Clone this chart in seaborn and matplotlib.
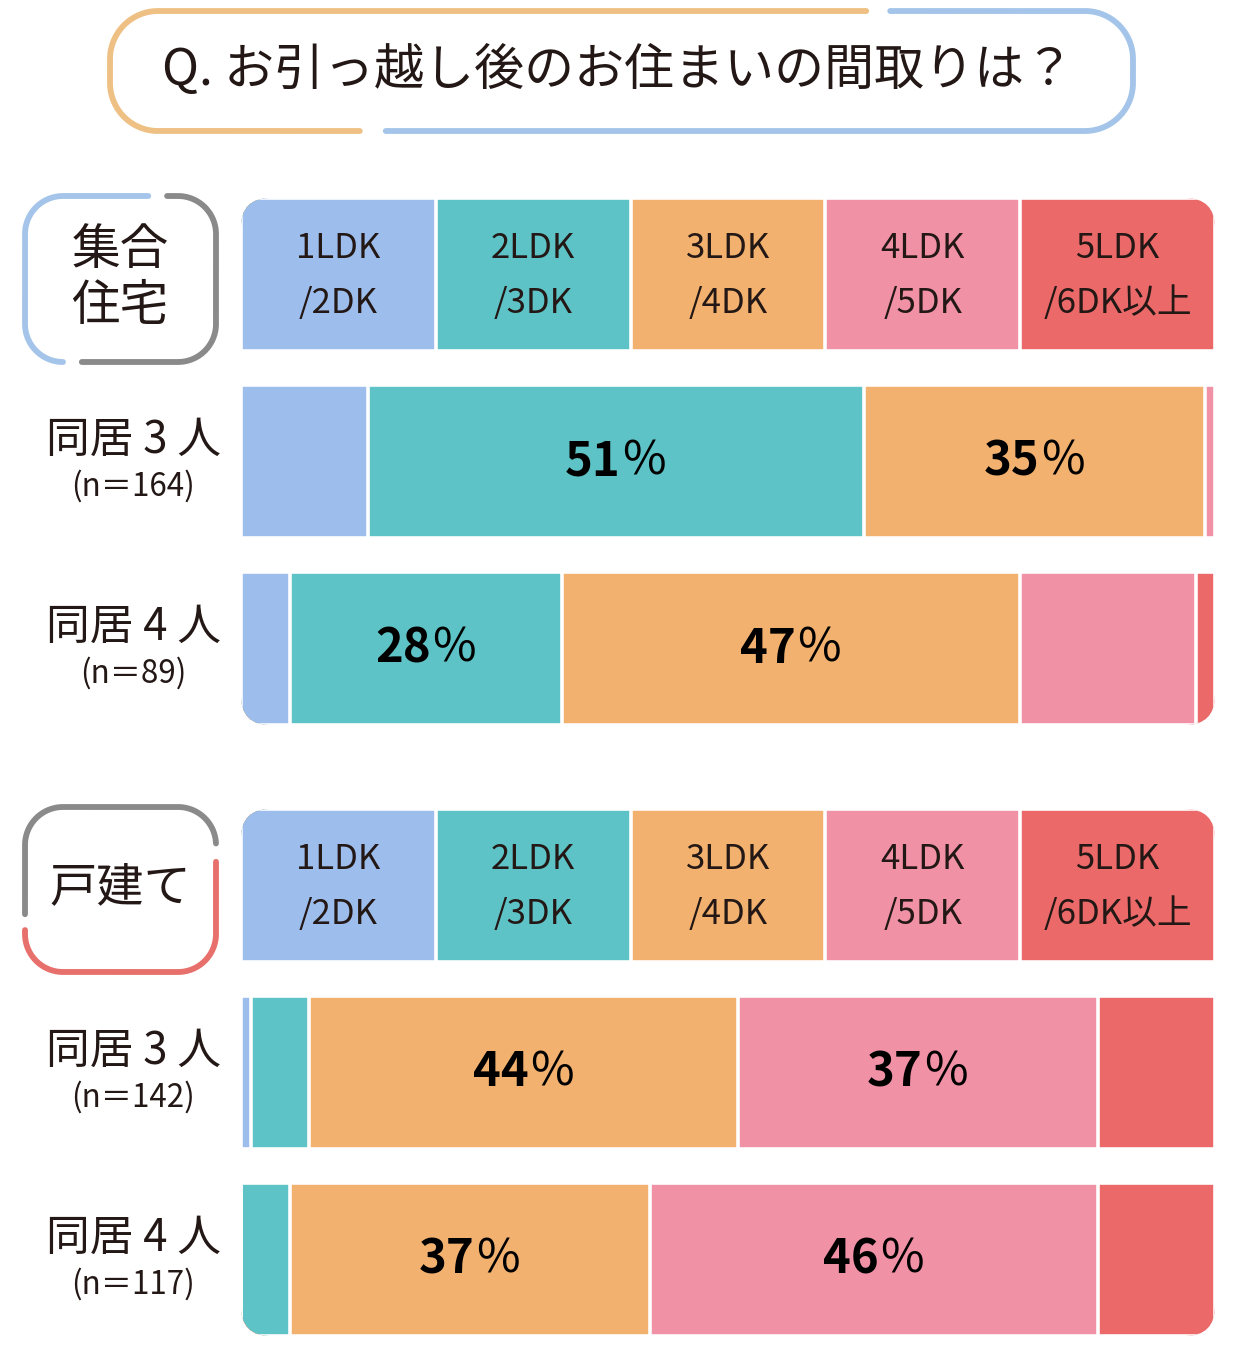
import numpy as np
import pandas as pd
import matplotlib.pyplot as plt
import matplotlib.transforms as mtrans
from matplotlib.patches import FancyBboxPatch
import seaborn as sns

# layout categories and answers (percent)
categories = ["1LDK", "2LDK", "3LDK", "4LDK", "5LDK"]
cat_line2 = ["/2DK", "/3DK", "/4DK", "/5DK", "/6DK以上"]
colors = ["#9dbdec", "#5ec3c6", "#f2b16f", "#f191a6", "#eb6a69"]

apt_3 = [13, 51, 35, 1, 0]
apt_4 = [5, 28, 47, 18, 2]
house_3 = [1, 6, 44, 37, 12]
house_4 = [0, 5, 37, 46, 12]

row_names = ["同居 3 人", "同居 4 人"]
apt_n = ["(n＝164)", "(n＝89)"]
house_n = ["(n＝142)", "(n＝117)"]

title = "Q. お引っ越し後のお住まいの間取りは？"

sns.set_theme(style="white")
plt.rcParams["font.family"] = ["Noto Sans CJK JP", "DejaVu Sans"]
ink = "#231815"

W, H = 1242, 1349
fig = plt.figure(figsize=(W / 100, H / 100), dpi=100)
fig.patch.set_facecolor("white")
# pixel coords, origin top-left
pix = mtrans.Affine2D().scale(1 / W, -1 / H).translate(0, 1) + fig.transFigure


def perimeter(x0, y0, x1, y1, r):
    pts = []
    def line(a, b):
        n = int(max(abs(b[0] - a[0]), abs(b[1] - a[1]))) + 2
        pts.extend(zip(np.linspace(a[0], b[0], n), np.linspace(a[1], b[1], n)))
    def arc(cx, cy, t0, t1):
        t = np.radians(np.linspace(t0, t1, 40))
        pts.extend(zip(cx + r * np.cos(t), cy + r * np.sin(t)))
    line((x0 + r, y0), (x1 - r, y0))
    arc(x1 - r, y0 + r, -90, 0)
    line((x1, y0 + r), (x1, y1 - r))
    arc(x1 - r, y1 - r, 0, 90)
    line((x1 - r, y1), (x0 + r, y1))
    arc(x0 + r, y1 - r, 90, 180)
    line((x0, y1 - r), (x0, y0 + r))
    arc(x0 + r, y0 + r, 180, 270)
    return np.array(pts)


def piece(P, a, b):
    i = np.argmin(((P - a) ** 2).sum(1))
    j = np.argmin(((P - b) ** 2).sum(1))
    if i <= j:
        return P[i:j + 1]
    return np.vstack([P[i:], P[:j + 1]])


def stroke(P, a, b, color):
    seg = piece(P, np.array(a), np.array(b))
    fig.add_artist(plt.Line2D(seg[:, 0], seg[:, 1], transform=pix, color=color,
                              lw=4.2, solid_capstyle="round"))


# title box
P = perimeter(110, 11, 1133, 131, 48)
stroke(P, (360, 131), (866, 11), "#efc084")
stroke(P, (890, 11), (386, 131), "#a4c5e9")
fig.text(618, 71, title, transform=pix, ha="center", va="center",
         fontsize=36, color=ink)

# group label boxes
P = perimeter(25, 196, 216, 362, 38)
stroke(P, (63, 362), (148, 196), "#a4c5e9")
stroke(P, (167, 196), (82, 362), "#8a8a8a")
fig.text(120, 250, "集合", transform=pix, ha="center", va="center", fontsize=35, color=ink)
fig.text(120, 306, "住宅", transform=pix, ha="center", va="center", fontsize=35, color=ink)

P = perimeter(25, 807, 216, 972, 38)
stroke(P, (25, 914), (216, 843), "#8a8a8a")
stroke(P, (216, 862), (25, 930), "#e8706c")
fig.text(120, 888, "戸建て", transform=pix, ha="center", va="center", fontsize=34, color=ink)


def draw_group(top, rows, n_labels):
    ax = fig.add_axes([241 / W, 1 - (top + 527) / H, 974 / W, 527 / H])
    data = pd.DataFrame([[20] * 5] + rows, columns=categories)
    data.index = ["header", "r3", "r4"]
    cum = data.cumsum(axis=1)
    for k in range(4, -1, -1):
        sns.barplot(x=cum[categories[k]].values, y=list(data.index), orient="h",
                    color=colors[k], saturation=1, width=0.818, errorbar=None,
                    edgecolor="white", linewidth=2.6, ax=ax)
    clip = FancyBboxPatch((241, top), 974, 527, boxstyle="round,pad=0,rounding_size=30",
                          transform=pix)
    for p in ax.patches:
        p.set_clip_path(clip)
    ax.set_xlim(0, 100)
    ax.set_ylim(2.409, -0.409)
    ax.axis("off")

    left = data.cumsum(axis=1) - data
    for k, cat in enumerate(categories):
        cx = left.iloc[0, k] + 10
        ax.text(cx, -0.14, cat, ha="center", va="center", fontsize=25, color=ink)
        ax.text(cx, 0.155, cat_line2[k], ha="center", va="center", fontsize=25, color=ink)
    for r in range(1, 3):
        for k in range(5):
            v = data.iloc[r, k]
            if v > 20:
                cx = left.iloc[r, k] + v / 2
                ax.annotate(f"{v}", (cx, r), xytext=(3.5, 0), textcoords="offset points",
                            ha="right", va="center", fontsize=34, fontweight="bold",
                            color="black")
                ax.annotate("%", (cx, r), xytext=(4.5, 0), textcoords="offset points",
                            ha="left", va="center", fontsize=34, color="black")
        yc = top + 76 + 187 * r
        fig.text(133, yc - 21, row_names[r - 1], transform=pix, ha="center", va="center",
                 fontsize=31.5, color=ink)
        fig.text(133, yc + 25, n_labels[r - 1], transform=pix, ha="center", va="center",
                 fontsize=22.5, color=ink)
    return ax


draw_group(198, [apt_3, apt_4], apt_n)
draw_group(809, [house_3, house_4], house_n)

fig.savefig("out.png", dpi=100, facecolor="white")
